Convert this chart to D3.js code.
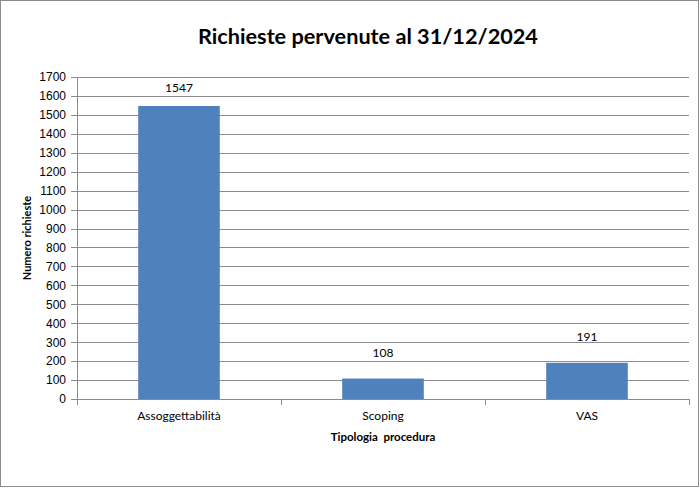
<!DOCTYPE html>
<html>

<head>
  <title>Richieste pervenute</title>
  <meta charset="utf-8">
  <script src="https://d3js.org/d3.v7.min.js"></script>
  <style>
    body {
      margin: 0;
      background: #fff;
    }

    svg {
      font-family: Lato, "Open Sans", sans-serif;
    }

    .grid line {
      stroke: #8c8c8c;
      stroke-width: 1px;
    }

    .axis path,
    .axis line {
      stroke: #8c8c8c;
      shape-rendering: crispEdges;
    }

    .axis text {
      fill: #000;
      font-size: 12px;
    }
  </style>
</head>

<body>
  <svg width="700" height="488"></svg>
  <script>

    const categories = ["Assoggettabilità", "Scoping", "VAS"]
    const values = [1547, 108, 191]
    const yTicks = d3.range(0, 1701, 100)

    const svg = d3.select("svg")
    const margin = { top: 77, right: 11, bottom: 89, left: 77 }
    const width = 700 - margin.left - margin.right
    const height = 488 - margin.top - margin.bottom

    // chart border
    svg.append("rect")
      .attr("x", 0.5).attr("y", 0.5)
      .attr("width", 698).attr("height", 486)
      .attr("fill", "#fff")
      .attr("stroke", "#8c8c8c")

    const g = svg.append("g")
      .attr("transform", `translate(${margin.left},${margin.top})`)

    const x = d3.scaleBand()
      .domain(categories)
      .range([0, width])
      .paddingInner(0.6)
      .paddingOuter(0.3)

    const y = d3.scaleLinear()
      .domain([0, 1700])
      .range([height, 0])

    // gridlines
    g.append("g")
      .attr("class", "grid")
      .selectAll("line")
      .data(yTicks.slice(1))
      .enter().append("line")
      .attr("x1", 0)
      .attr("x2", width)
      .attr("y1", d => Math.round(y(d)) + 0.5)
      .attr("y2", d => Math.round(y(d)) + 0.5)

    // bars
    g.selectAll(".bar")
      .data(values)
      .enter().append("rect")
      .attr("class", "bar")
      .attr("x", (d, i) => x(categories[i]))
      .attr("width", x.bandwidth())
      .attr("y", d => y(d))
      .attr("height", d => height - y(d))
      .attr("fill", "#4f81bd")

    // value labels, kept inside the plot area
    g.selectAll(".label")
      .data(values)
      .enter().append("text")
      .attr("class", "label")
      .attr("x", (d, i) => x(categories[i]) + x.bandwidth() / 2)
      .attr("y", d => Math.max(y(d) - 22, 15))
      .attr("text-anchor", "middle")
      .attr("font-size", "12px")
      .text(d => d)

    // y axis
    g.append("g")
      .attr("class", "axis")
      .call(d3.axisLeft(y).tickValues(yTicks).tickFormat(d3.format("d")).tickSize(6).tickPadding(5))
      .call(a => a.select(".domain").attr("d", `M0.5,0V${height}`))

    // x axis with ticks between categories
    const xAxis = g.append("g")
      .attr("class", "axis")
      .attr("transform", `translate(0,${height})`)

    xAxis.append("line")
      .attr("x1", 0).attr("x2", width)
      .attr("y1", 0.5).attr("y2", 0.5)

    const bounds = d3.range(categories.length + 1).map(i => i * (width / categories.length))
    xAxis.selectAll(".xtick")
      .data(bounds)
      .enter().append("line")
      .attr("x1", d => Math.round(d) + 0.5)
      .attr("x2", d => Math.round(d) + 0.5)
      .attr("y1", 0)
      .attr("y2", 6)

    xAxis.selectAll(".xlab")
      .data(categories)
      .enter().append("text")
      .attr("x", d => x(d) + x.bandwidth() / 2)
      .attr("y", 21)
      .attr("text-anchor", "middle")
      .text(d => d)

    // titles
    svg.append("text")
      .attr("x", 368)
      .attr("y", 44)
      .attr("text-anchor", "middle")
      .attr("font-size", "21.7px")
      .attr("font-weight", "bold")
      .text("Richieste pervenute al 31/12/2024")

    svg.append("text")
      .attr("x", margin.left + width / 2)
      .attr("y", 441)
      .attr("text-anchor", "middle")
      .attr("font-size", "11.5px")
      .attr("font-weight", "bold")
      .attr("xml:space", "preserve")
      .text("Tipologia  procedura")

    svg.append("text")
      .attr("transform", `translate(31,${margin.top + height / 2}) rotate(-90)`)
      .attr("text-anchor", "middle")
      .attr("font-size", "11px")
      .attr("font-weight", "bold")
      .text("Numero richieste")

  </script>
</body>

</html>
